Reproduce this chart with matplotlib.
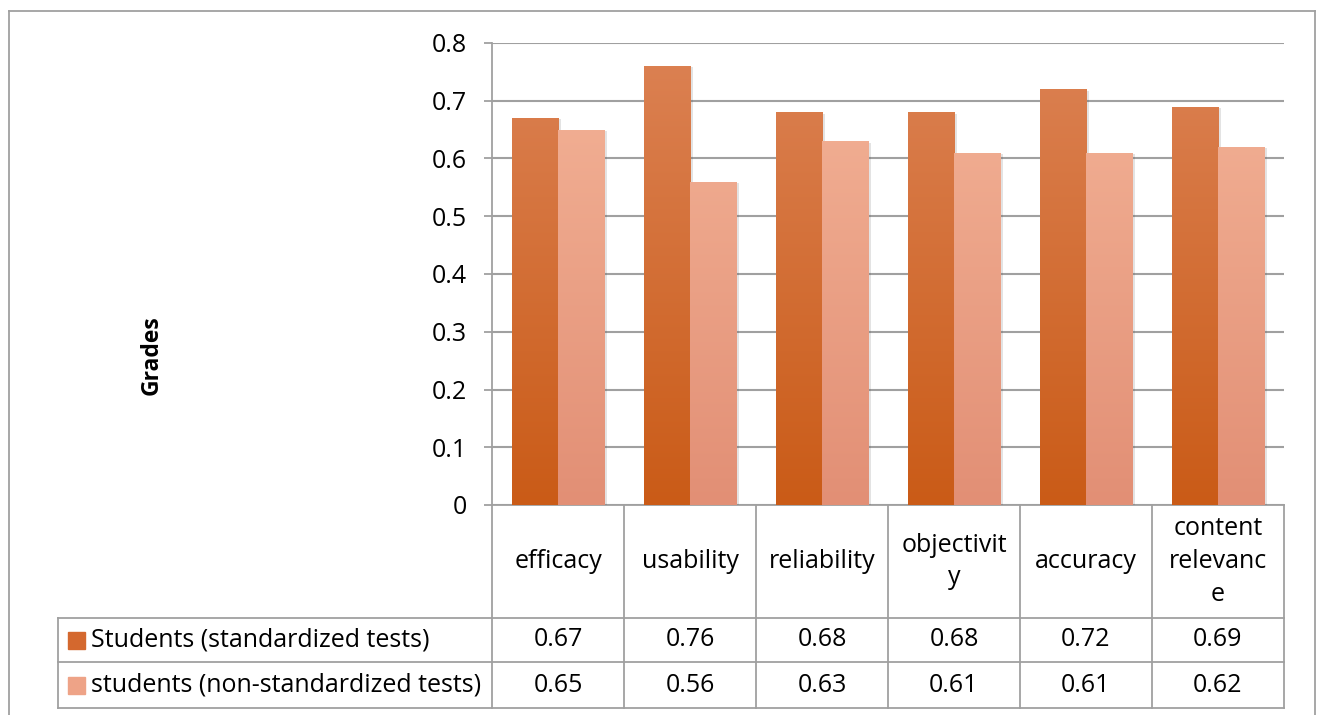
import numpy as np
import matplotlib
matplotlib.use("Agg")
import matplotlib.pyplot as plt
from matplotlib.colors import LinearSegmentedColormap
from matplotlib.lines import Line2D
from matplotlib.patches import Rectangle
import matplotlib.patheffects as pe

categories = ["efficacy", "usability", "reliability", "objectivity", "accuracy", "content relevance"]
cat_labels = ["efficacy", "usability", "reliability", "objectivit\ny", "accuracy", "content\nrelevanc\ne"]
series_names = ["Students (standardized tests)", "students (non-standardized tests)"]
standardized = [0.67, 0.76, 0.68, 0.68, 0.72, 0.69]
non_standardized = [0.65, 0.56, 0.63, 0.61, 0.61, 0.62]
y_ticks = [0, 0.1, 0.2, 0.3, 0.4, 0.5, 0.6, 0.7, 0.8]

plt.rcParams["font.family"] = ["Open Sans", "DejaVu Sans"]
GRID = "#a0a0a0"
FS = 18

# gradient colours (top, bottom)
grad_dark = ("#dc8254", "#ca5b17")
grad_light = ("#f4b498", "#e28f75")
solid_dark = "#d4682e"
solid_light = "#eea387"

fig = plt.figure(figsize=(13.17, 7.15), dpi=100)
ax = fig.add_axes([492 / 1317, 1 - 505 / 715, (1284 - 492) / 1317, (505 - 43) / 715])

x = np.arange(len(categories))
w = 0.35


def gradient_bars(xpos, vals, cols):
    bars = ax.bar(xpos, vals, w, color=cols[0], zorder=3,
                  path_effects=[pe.SimplePatchShadow(offset=(2, -1), alpha=0.15, shadow_rgbFace="#444444"), pe.Normal()])
    cmap = LinearSegmentedColormap.from_list("g", [cols[1], cols[0]])
    grad = np.linspace(0, 1, 256).reshape(-1, 1)
    for b in bars:
        x0 = b.get_x()
        im = ax.imshow(grad, cmap=cmap, origin="lower", aspect="auto",
                       extent=[x0, x0 + b.get_width(), 0, 0.8], zorder=4)
        im.set_clip_path(b)
    return bars


gradient_bars(x - w / 2, standardized, grad_dark)
gradient_bars(x + w / 2, non_standardized, grad_light)

ax.set_xlim(-0.5, len(categories) - 0.5)
ax.set_ylim(0, 0.8)
ax.set_yticks(y_ticks)
ax.set_yticklabels(["0" if t == 0 else f"{t:.1f}" for t in y_ticks], fontsize=FS)
ax.set_xticks([])
ax.tick_params(axis="y", length=6, color=GRID, width=1.3, pad=12)
for t in y_ticks:
    ax.axhline(t, color=GRID, lw=1.5, zorder=1)
for s in ["top", "right", "bottom"]:
    ax.spines[s].set_visible(False)
ax.spines["left"].set_color(GRID)
ax.spines["left"].set_linewidth(1.3)
ax.set_ylabel("Grades", fontsize=FS - 1.5, fontweight="bold", labelpad=0)
ax.yaxis.set_label_coords(-0.415, 0.325)

# data table under the axes
tr = ax.get_xaxis_transform()
px = 462.0
r0, r1, r2, r3 = 0, -113 / px, -157 / px, -203 / px
left = -0.5 - (492 - 58) / 132.0
right = len(categories) - 0.5
kw = dict(transform=tr, clip_on=False, color=GRID, lw=1.3)
ax.add_line(Line2D([-0.5, -0.5], [0, r3], **kw))
for i in range(len(categories)):
    ax.add_line(Line2D([i + 0.5, i + 0.5], [0, r3], **kw))
ax.add_line(Line2D([-0.5, right], [0, 0], **kw))
for r in (r1, r2, r3):
    ax.add_line(Line2D([left, right], [r, r], **kw))
ax.add_line(Line2D([left, left], [r1, r3], **kw))

for i, lab in enumerate(cat_labels):
    ax.text(i, (r0 + r1) / 2, lab, transform=tr, ha="center", va="center",
            fontsize=FS, linespacing=1.4, clip_on=False)
for i in range(len(categories)):
    ax.text(i, (r1 + r2) / 2, f"{standardized[i]:.2f}", transform=tr,
            ha="center", va="center", fontsize=FS, clip_on=False)
    ax.text(i, (r2 + r3) / 2, f"{non_standardized[i]:.2f}", transform=tr,
            ha="center", va="center", fontsize=FS, clip_on=False)

for (ra, rb), name, col in [((r1, r2), series_names[0], solid_dark),
                            ((r2, r3), series_names[1], solid_light)]:
    yc = (ra + rb) / 2
    sq = 17 / px
    ax.add_patch(Rectangle((left + 10 / 132, yc - sq / 2), 17 / 132, sq, transform=tr,
                           color=col, clip_on=False))
    ax.text(left + 33 / 132, yc, name, transform=tr, ha="left", va="center",
            fontsize=FS, clip_on=False)

# outer chart frame
fkw = dict(transform=fig.transFigure, color=GRID, lw=1.3)
fig.add_artist(Line2D([9 / 1317, 9 / 1317], [0, 1 - 11 / 715], **fkw))
fig.add_artist(Line2D([9 / 1317, 1315 / 1317], [1 - 11 / 715, 1 - 11 / 715], **fkw))
fig.add_artist(Line2D([1315 / 1317, 1315 / 1317], [0, 1 - 11 / 715], **fkw))

fig.savefig("out.png", dpi=100)
